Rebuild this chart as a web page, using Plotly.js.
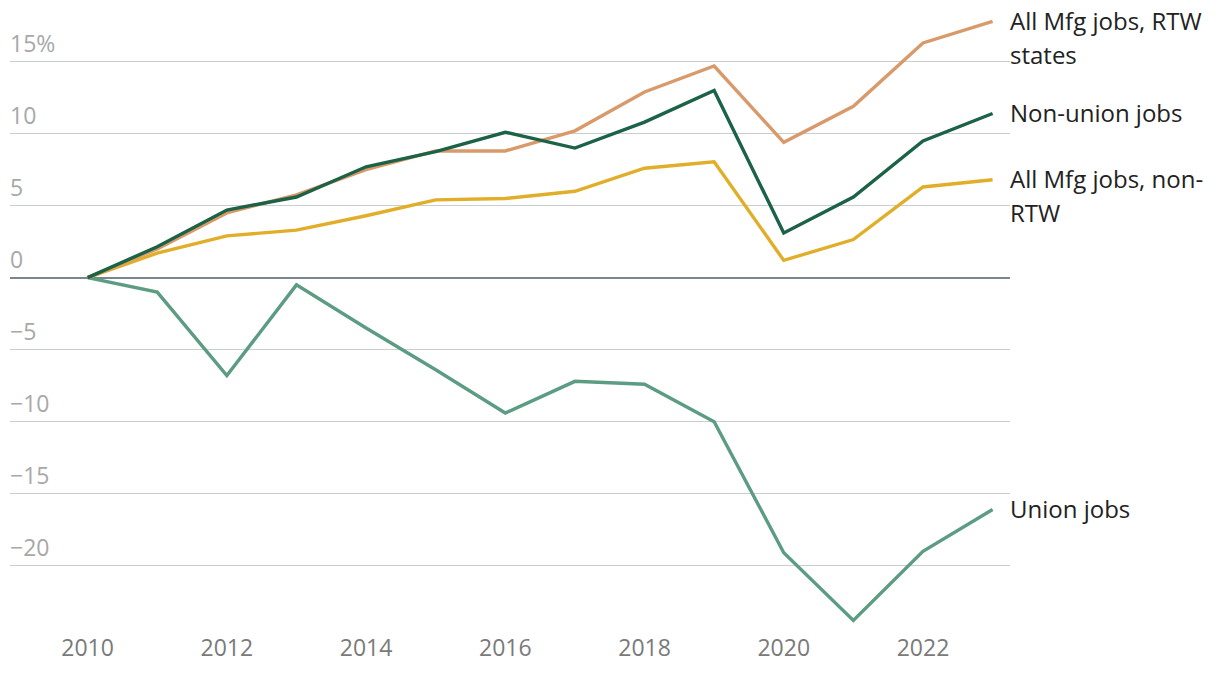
<!DOCTYPE html>
<html>
<head>
<meta charset="utf-8">
<script src="https://cdn.plot.ly/plotly-3.0.1.min.js"></script>
<style>
  html, body { margin: 0; padding: 0; background: #fff; }
  #chart { width: 1220px; height: 678px; }
</style>
</head>
<body>
<div id="chart"></div>
<script>
const years = [2010, 2011, 2012, 2013, 2014, 2015, 2016, 2017, 2018, 2019, 2020, 2021, 2022, 2023];
const rtwStates = [0, 2.0, 4.5, 5.75, 7.5, 8.8, 8.8, 10.2, 12.9, 14.7, 9.4, 11.9, 16.3, 17.8];
const nonUnion = [0, 2.15, 4.7, 5.6, 7.7, 8.75, 10.1, 9.0, 10.8, 13.0, 3.1, 5.6, 9.5, 11.4];
const nonRtw = [0, 1.7, 2.9, 3.3, 4.3, 5.4, 5.5, 6.0, 7.6, 8.05, 1.2, 2.65, 6.3, 6.8];
const union = [0, -1.0, -6.8, -0.5, -3.5, -6.4, -9.4, -7.2, -7.4, -10.0, -19.1, -23.8, -19.0, -16.1];

const yTickVals = [-20, -15, -10, -5, 0, 5, 10, 15];
const yTickText = ['\u221220', '\u221215', '\u221210', '\u22125', '0', '5', '10', '15%'];
const xTickVals = [2010, 2012, 2014, 2016, 2018, 2020, 2022];

const seriesNames = ['All Mfg jobs, RTW states', 'Non-union jobs', 'All Mfg jobs, non-RTW', 'Union jobs'];
const seriesData = [rtwStates, nonUnion, nonRtw, union];
const seriesColors = ['#d99a6b', '#1b6246', '#e1ae2a', '#5c9c82'];
// label lines for direct labels
const labelLines = [['All Mfg jobs, RTW', 'states'], ['Non-union jobs'], ['All Mfg jobs, non-', 'RTW'], ['Union jobs']];

const traces = seriesData.map((d, i) => ({
  x: years, y: d, type: 'scatter', mode: 'lines', name: seriesNames[i],
  line: { color: seriesColors[i], width: 3.4 },
  hoverinfo: 'skip'
}));
// draw order: union, nonRtw, rtw, nonUnion on top
const ordered = [traces[3], traces[2], traces[0], traces[1]];

const annotations = [];
labelLines.forEach((lines, i) => {
  const last = seriesData[i][seriesData[i].length - 1];
  lines.forEach((t, j) => {
    annotations.push({
      xref: 'paper', yref: 'y', x: 1, y: last, xanchor: 'left', yanchor: 'middle',
      xshift: -2, yshift: 1 - 34 * j,
      text: t, showarrow: false,
      font: { family: 'Open Sans, sans-serif', size: 24, color: '#222222' }
    });
  });
});

const layout = {
  width: 1220, height: 678,
  margin: { l: 10, r: 210, t: 10, b: 48 },
  paper_bgcolor: '#ffffff', plot_bgcolor: '#ffffff',
  showlegend: false,
  font: { family: 'Open Sans, sans-serif' },
  xaxis: {
    range: [2008.885, 2023.25],
    tickvals: xTickVals,
    ticks: '', showgrid: false, zeroline: false, showline: false,
    ticklabelstandoff: 2,
    tickfont: { family: 'Open Sans, sans-serif', size: 23, color: '#7a7a7a' },
    fixedrange: true
  },
  yaxis: {
    range: [-24.47, 18.59],
    tickvals: yTickVals, ticktext: yTickText,
    ticks: '', showline: false,
    ticklabelposition: 'inside',
    ticklabelshift: -18,
    ticklabelstandoff: -3,
    showgrid: true, gridcolor: '#c9cece', gridwidth: 1.6,
    zeroline: true, zerolinecolor: '#7b868c', zerolinewidth: 2,
    tickfont: { family: 'Open Sans, sans-serif', size: 23, color: '#a8a8a8' },
    fixedrange: true
  },
  annotations: annotations
};

Plotly.newPlot('chart', ordered, layout, { displayModeBar: false, staticPlot: true });
</script>
</body>
</html>
